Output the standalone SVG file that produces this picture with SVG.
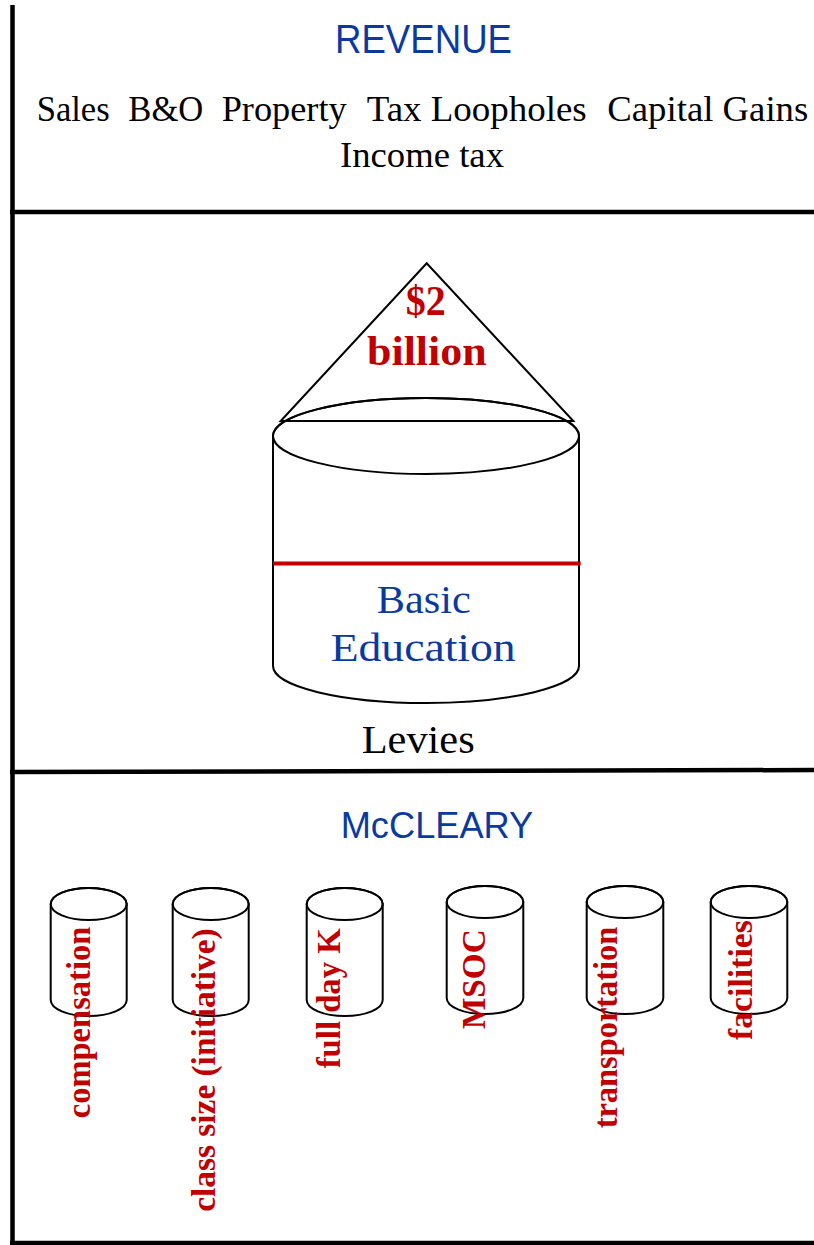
<svg xmlns="http://www.w3.org/2000/svg" width="814" height="1245" viewBox="0 0 814 1245">
<style>
.frame{stroke:#000;stroke-width:4.5;fill:none}
.cyl{stroke:#000;stroke-width:2;fill:#fff}
.ln{stroke:#000;stroke-width:2;fill:none}
.blue{fill:#0B3A9E}
.sans{font-family:"Liberation Sans",Arial,sans-serif}
.serif{font-family:"Liberation Serif","Times New Roman",serif}
.body{font-family:"Liberation Serif","Times New Roman",serif;font-size:35px;fill:#000}
.red{font-family:"Liberation Serif","Times New Roman",serif;font-weight:bold;fill:#C00000}
.vt{font-family:"Liberation Serif","Times New Roman",serif;font-weight:bold;font-size:33px;fill:#C00000}
</style>
<rect width="814" height="1245" fill="#fff"/>
<g id="frame">
<line class="frame" x1="12.5" y1="5" x2="12.5" y2="1245"/>
<line class="frame" x1="10" y1="212" x2="814" y2="212"/>
<line class="frame" x1="10" y1="772" x2="814" y2="770"/>
<line class="frame" x1="10" y1="1243" x2="814" y2="1243"/>
</g>
<g id="revenue">
<text class="sans blue" x="335" y="53.3" font-size="41" textLength="177" lengthAdjust="spacingAndGlyphs">REVENUE</text>
<text class="body" y="120.7"><tspan x="36.7" textLength="73" lengthAdjust="spacingAndGlyphs">Sales</tspan><tspan x="128.3" textLength="75" lengthAdjust="spacingAndGlyphs">B&amp;O</tspan><tspan x="221.7" textLength="125" lengthAdjust="spacingAndGlyphs">Property</tspan><tspan x="366.7" textLength="220" lengthAdjust="spacingAndGlyphs">Tax Loopholes</tspan><tspan x="607.3" textLength="201" lengthAdjust="spacingAndGlyphs">Capital Gains</tspan></text>
<text class="body" x="340" y="166.7" textLength="164" lengthAdjust="spacingAndGlyphs">Income tax</text>
</g>
<g id="basic-education">
<path class="cyl" d="M273,436 A153,38 0 0 1 579,436 L579,666 A153,37 0 0 1 273,666 Z"/>
<ellipse class="ln" cx="426" cy="436" rx="153" ry="38"/>
<line x1="273" y1="563.5" x2="580.7" y2="563.5" stroke="#C00000" stroke-width="4"/>
<text class="serif blue" x="376.7" y="612.7" font-size="41" textLength="94" lengthAdjust="spacingAndGlyphs">Basic</text>
<text class="serif blue" x="330.7" y="660.7" font-size="41" textLength="185" lengthAdjust="spacingAndGlyphs">Education</text>
</g>
<g id="two-billion">
<polygon class="ln" points="426.7,263.3 280.7,421 573.3,421"/>
<text class="red" x="405.7" y="315" font-size="43" textLength="40" lengthAdjust="spacingAndGlyphs">$2</text>
<text class="red" x="367" y="365" font-size="43" textLength="119.7" lengthAdjust="spacingAndGlyphs">billion</text>
</g>
<g id="levies">
<text class="serif" x="361.7" y="753.3" font-size="40" fill="#000" textLength="113" lengthAdjust="spacingAndGlyphs">Levies</text>
</g>
<g id="mccleary">
<text class="sans blue" x="340.7" y="837.7" font-size="36" textLength="192.6" lengthAdjust="spacingAndGlyphs">McCLEARY</text>
</g>
<g id="compensation">
<path class="cyl" d="M50.7,904 A38,16 0 0 1 126.7,904 L126.7,1000 A38,16 0 0 1 50.7,1000 Z"/>
<ellipse class="ln" cx="88.7" cy="904" rx="38" ry="16"/>
<text class="vt" transform="translate(90,1118.3) rotate(-90)" textLength="191.6" lengthAdjust="spacingAndGlyphs">compensation</text>
</g>
<g id="class-size">
<path class="cyl" d="M172.7,904 A38,16 0 0 1 248.7,904 L248.7,1000 A38,16 0 0 1 172.7,1000 Z"/>
<ellipse class="ln" cx="210.7" cy="904" rx="38" ry="16"/>
<text class="vt" transform="translate(215,1211.7) rotate(-90)" textLength="283.4" lengthAdjust="spacingAndGlyphs">class size (initiative)</text>
</g>
<g id="full-day-k">
<path class="cyl" d="M306.7,904 A38,16 0 0 1 382.7,904 L382.7,1000 A38,16 0 0 1 306.7,1000 Z"/>
<ellipse class="ln" cx="344.7" cy="904" rx="38" ry="16"/>
<text class="vt" transform="translate(340,1068.3) rotate(-90)" textLength="140" lengthAdjust="spacingAndGlyphs">full day K</text>
</g>
<g id="msoc">
<path class="cyl" d="M446.7,902 A38.3,16 0 0 1 523.3,902 L523.3,998 A38.3,16 0 0 1 446.7,998 Z"/>
<ellipse class="ln" cx="485" cy="902" rx="38.3" ry="16"/>
<text class="vt" transform="translate(485,1029) rotate(-90)" textLength="99.7" lengthAdjust="spacingAndGlyphs">MSOC</text>
</g>
<g id="transportation">
<path class="cyl" d="M586.7,902 A38.3,16 0 0 1 663.3,902 L663.3,998 A38.3,16 0 0 1 586.7,998 Z"/>
<ellipse class="ln" cx="625" cy="902" rx="38.3" ry="16"/>
<text class="vt" transform="translate(616.7,1128.3) rotate(-90)" textLength="201.6" lengthAdjust="spacingAndGlyphs">transportation</text>
</g>
<g id="facilities">
<path class="cyl" d="M710.7,902 A38.3,16 0 0 1 787.3,902 L787.3,998 A38.3,16 0 0 1 710.7,998 Z"/>
<ellipse class="ln" cx="749" cy="902" rx="38.3" ry="16"/>
<text class="vt" transform="translate(751.7,1040) rotate(-90)" textLength="120" lengthAdjust="spacingAndGlyphs">facilities</text>
</g>
</svg>
